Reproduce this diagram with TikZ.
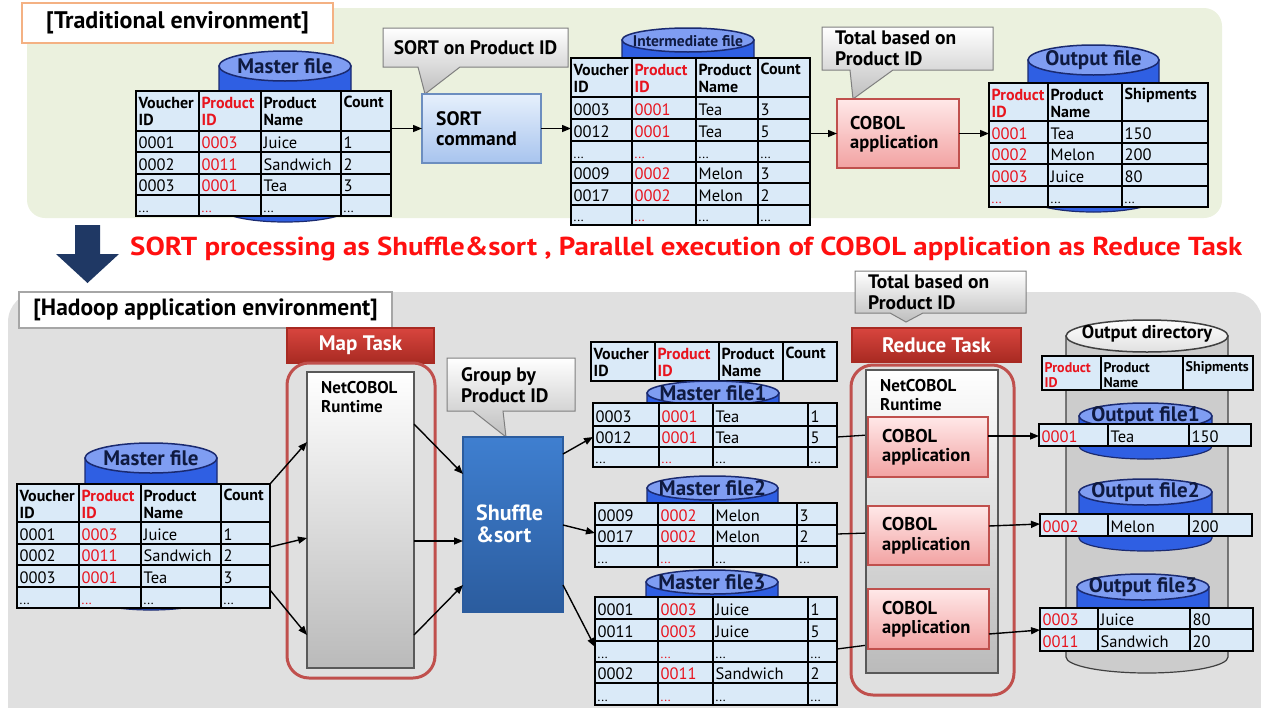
\documentclass[tikz,border=0pt]{standalone}
\usepackage{fontspec}
\setmainfont{PT Sans}
\usetikzlibrary{arrows.meta}
\definecolor{greenbg}{HTML}{EBF1DE}
\definecolor{graybg}{HTML}{E0E0E0}
\definecolor{cellblue}{HTML}{DAEAF8}
\definecolor{tred}{HTML}{E8141E}
\definecolor{hred}{HTML}{FF1010}
\definecolor{cylbodyc}{HTML}{2F5FE3}
\definecolor{cyltopc}{HTML}{7F9DF2}
\definecolor{cylline}{HTML}{1A2A70}
\definecolor{navy}{HTML}{1F3864}
\definecolor{taskredT}{HTML}{D8453E}
\definecolor{taskredB}{HTML}{A82A22}
\definecolor{outred}{HTML}{C0504D}
\definecolor{shufT}{HTML}{3F7FD0}
\definecolor{shufB}{HTML}{2B5C9E}
\definecolor{sortT}{HTML}{E6F0FC}
\definecolor{sortB}{HTML}{A8C4EE}
\definecolor{sortL}{HTML}{6C8EBF}
\definecolor{cobT}{HTML}{FFE8E8}
\definecolor{cobB}{HTML}{F2A2A2}
\definecolor{cobL}{HTML}{C0504D}
\definecolor{callB}{HTML}{BEBEBE}
\definecolor{callL}{HTML}{7F7F7F}
\definecolor{orangeb}{HTML}{F4B183}
\definecolor{grayb}{HTML}{A6A6A6}
\definecolor{dirbodyc}{HTML}{CCCCCC}
\definecolor{labc}{HTML}{0F1A40}

\newcommand\tdots{{\fontsize{13}{13}\selectfont...}}
\newcommand\rdots{\textcolor{tred}{\tdots}}
\newcommand\two[2]{\begin{tabular}{@{}l@{}}#1\\#2\end{tabular}}
\newcommand\mkcyl[9]{%
 \pgfmathsetmacro\cyX{(#2+#3)/2}%
 \pgfmathsetmacro\cyR{(#3-#2)/2}%
 \draw[#7] (#2,#4) -- (#2,#5) arc[start angle=180,end angle=0,x radius=\cyR,y radius=#6] -- (#3,#4) -- cycle;
 \draw[#8] (\cyX,#4) ellipse[x radius=\cyR,y radius=#6];
 \node[cyllabel] (#1) at (\cyX,#4) {#9};}
\newcommand\mkrow[4]{%
 \foreach \xa/\xb/\tx [count=\ci] in {#4}{%
  \draw[cell] (\xa,#2) rectangle (\xb,#3);
  \node[ctext] (#1-\ci) at ({\xa+2.5},{#3-4}) {\tx};}}
\newcommand\mkhrow[5]{%
 \foreach \xa/\xb/\tx [count=\ci] in {#5}{%
  \draw[cell] (\xa,#2) rectangle (\xb,#3);
  \node[#4] (#1-\ci) at ({\xa+2.5},{#2+5}) {\tx};}}
\newcommand\mkframe[5]{%
 \draw[frame] (#2,#3) rectangle (#4,#5);
 \coordinate (#1nw) at (#2,#3); \coordinate (#1se) at (#4,#5);
 \coordinate (#1ne) at (#4,#3); \coordinate (#1sw) at (#2,#5);}

\begin{document}
\begin{tikzpicture}[x=1pt,y=-1pt,
 cell/.style={fill=cellblue,draw=black,line width=1.2pt},
 frame/.style={draw=black,line width=2pt},
 ctext/.style={anchor=base west,inner sep=0pt,font=\fontsize{16.5}{18}\selectfont},
 htext/.style={anchor=north west,inner sep=0pt,font=\bfseries\fontsize{16}{17.5}\selectfont},
 htextsm/.style={anchor=north west,inner sep=0pt,font=\bfseries\fontsize{14}{15.5}\selectfont},
 cyllabel/.style={inner sep=0pt,text=labc,font=\bfseries\fontsize{21}{23}\selectfont},
 bcylbody/.style={fill=cylbodyc,draw=cylline,line width=1.2pt},
 bcyltop/.style={fill=cyltopc,draw=cylline,line width=1.5pt},
 dbody/.style={fill=dirbodyc,draw=black!75,line width=1.2pt},
 dtop/.style={top color=white,bottom color=black!12,draw=black!75,line width=1.5pt},
 arr/.style={-{Triangle[length=9pt,width=7pt]},line width=1.4pt},
 link/.style={line width=1.3pt},
 btxt/.style={font=\bfseries\fontsize{19.5}{20.5}\selectfont,align=left,inner sep=0pt,anchor=west},
 boxbase/.style={inner sep=0pt,outer sep=0pt,anchor=north west,line width=1.2pt},
 sortbox/.style={boxbase,draw=sortL,top color=sortT,bottom color=sortB},
 cobbox/.style={boxbase,draw=cobL,top color=cobT,bottom color=cobB},
 rtbox/.style={boxbase,draw=black!65,top color=white,middle color=black!8,bottom color=black!27},
 shufbox/.style={boxbase,draw=shufB,top color=shufT,bottom color=shufB},
 taskhdr/.style={boxbase,draw=taskredB,top color=taskredT,bottom color=taskredB,text=white,font=\bfseries\fontsize{21}{23}\selectfont},
 callout/.style={top color=white,bottom color=callB,draw=callL,line width=1pt},
 outline/.style={draw=outred,line width=3pt,rounded corners=22pt}]
\useasboundingbox (0,0) rectangle (1261,707);

% ---------------- backgrounds
\fill[greenbg,rounded corners=18pt] (27,8) rectangle (1222,218);
\fill[graybg,rounded corners=30pt] (8,292) rectangle (1262,740);

% ---------------- TOP: traditional environment
\node[boxbase,draw=orangeb,fill=white,minimum width=311pt,minimum height=40pt,font=\bfseries\fontsize{24}{26}\selectfont] (trad) at (22,3) {[Traditional environment]};

% master file (top)
\mkcyl{cylTM}{219}{351}{66}{207}{15}{bcylbody}{bcyltop}{Master file}
\mkhrow{tmh}{91}{131}{htext}{136/199/{\two{Voucher}{ID}},199/261/{\two{\color{tred}Product}{\color{tred}ID}},261/341/{\two{Product}{Name}},341/391/Count}
\mkrow{tma}{131}{152}{136/199/0001,199/261/{\textcolor{tred}{0003}},261/341/Juice,341/391/1}
\mkrow{tmb}{152}{174}{136/199/0002,199/261/{\textcolor{tred}{0011}},261/341/Sandwich,341/391/2}
\mkrow{tmc}{174}{195}{136/199/0003,199/261/{\textcolor{tred}{0001}},261/341/Tea,341/391/3}
\mkrow{tmd}{195}{216}{136/199/\tdots,199/261/\rdots,261/341/\tdots,341/391/\tdots}
\mkframe{tabTM}{136}{91}{391}{216}

% SORT callout + command
\shadedraw[callout] (383,28) -- (568,28) -- (568,67) -- (460,67) -- (425,94) -- (418,67) -- (383,67) -- cycle;
\node[btxt,anchor=center] (callSort) at (475.5,47.5) {SORT on Product ID};
\node[sortbox,minimum width=119pt,minimum height=69pt] (sortcmd) at (422,94) {};
\node[btxt] (sortcmdT) at (436,128.5) {SORT\\command};

% intermediate file
\mkcyl{cylIN}{622}{754}{40}{58}{12}{bcylbody}{bcyltop}{}
\node[inner sep=0pt,text=labc,font=\bfseries\fontsize{15.5}{17}\selectfont] (cylINl) at (688,41) {Intermediate file};
\mkhrow{inh}{58}{97}{htext}{571/632/{\two{Voucher}{ID}},632/696/{\two{\color{tred}Product}{\color{tred}ID}},696/758/{\two{Product}{Name}},758/810/Count}
\mkrow{ina}{97}{119}{571/632/0003,632/696/{\textcolor{tred}{0001}},696/758/Tea,758/810/3}
\mkrow{inb}{119}{141}{571/632/0012,632/696/{\textcolor{tred}{0001}},696/758/Tea,758/810/5}
\mkrow{inc}{141}{162}{571/632/\tdots,632/696/\rdots,696/758/\tdots,758/810/\tdots}
\mkrow{ind}{162}{183}{571/632/0009,632/696/{\textcolor{tred}{0002}},696/758/Melon,758/810/3}
\mkrow{ine}{183}{205}{571/632/0017,632/696/{\textcolor{tred}{0002}},696/758/Melon,758/810/2}
\mkrow{inf}{205}{225}{571/632/\tdots,632/696/\rdots,696/758/\tdots,758/810/\tdots}
\mkframe{tabIN}{571}{58}{810}{225}

% Total callout + COBOL application (top)
\shadedraw[callout] (822,27) -- (993,27) -- (993,70) -- (893,70) -- (853,99) -- (850,70) -- (822,70) -- cycle;
\node[btxt] (callTot) at (835,48.5) {Total based on\\Product ID};
\node[cobbox,minimum width=122pt,minimum height=69pt] (cobT) at (837,99) {};
\node[btxt,font=\bfseries\fontsize{18.5}{19}\selectfont] (cobTt) at (850,134) {COBOL\\application};

% output file (top)
\mkcyl{cylTO}{1028}{1159}{60}{197}{15}{bcylbody}{bcyltop}{Output file}
\mkhrow{toh}{83}{121}{htext}{989/1048/{\two{\color{tred}Product}{\color{tred}ID}},1048/1122/{\two{Product}{Name}},1122/1208/Shipments}
\mkrow{toa}{121}{143}{989/1048/{\textcolor{tred}{0001}},1048/1122/Tea,1122/1208/150}
\mkrow{tob}{143}{164}{989/1048/{\textcolor{tred}{0002}},1048/1122/Melon,1122/1208/200}
\mkrow{toc}{164}{186}{989/1048/{\textcolor{tred}{0003}},1048/1122/Juice,1122/1208/80}
\mkrow{tod}{186}{207}{989/1048/\rdots,1048/1122/\tdots,1122/1208/\tdots}
\mkframe{tabTO}{989}{83}{1208}{207}

% top connectors
\draw[arr] (tabTMse |- sortcmd.west) -- (sortcmd.west);
\draw[arr] (sortcmd.east) -- (tabINsw |- sortcmd.east);
\draw[arr] (tabINse |- cobT.west) -- (cobT.west);
\draw[arr] (cobT.east) -- (tabTOsw |- cobT.east);

% ---------------- middle
\fill[navy] (75,225) -- (100,225) -- (100,254) -- (119,254) -- (87.5,283) -- (56,254) -- (75,254) -- cycle;
\node[anchor=west,inner sep=0pt,text=hred] (headline) at (130,249) {\resizebox{1112pt}{\height}{\bfseries\fontsize{26}{28}\selectfont SORT processing as Shuffle\&sort , Parallel execution of COBOL application as Reduce Task}};

% ---------------- BOTTOM: Hadoop
\node[boxbase,draw=grayb,fill=white,minimum width=373pt,minimum height=36pt,font=\bfseries\fontsize{23.5}{25}\selectfont] (hadoop) at (19,292) {[Hadoop application environment]};

% Map task
\node[taskhdr,minimum width=147pt,minimum height=35pt] (mapH) at (287,328) {Map Task};
\draw[outline] (287,363) rectangle (435,678);
\node[rtbox,minimum width=107pt,minimum height=296pt] (mapRT) at (307,372) {};
\node[btxt,font=\bfseries\fontsize{17}{19}\selectfont] (mapRTt) at (321,397) {NetCOBOL\\Runtime};

% master file (bottom)
\mkcyl{cylBM}{85}{217}{458}{595}{15}{bcylbody}{bcyltop}{Master file}
\mkhrow{bmh}{484}{522}{htext}{17/79/{\two{Voucher}{ID}},79/141/{\two{\color{tred}Product}{\color{tred}ID}},141/221/{\two{Product}{Name}},221/270/Count}
\mkrow{bma}{522}{544}{17/79/0001,79/141/{\textcolor{tred}{0003}},141/221/Juice,221/270/1}
\mkrow{bmb}{544}{565}{17/79/0002,79/141/{\textcolor{tred}{0011}},141/221/Sandwich,221/270/2}
\mkrow{bmc}{565}{587}{17/79/0003,79/141/{\textcolor{tred}{0001}},141/221/Tea,221/270/3}
\mkrow{bmd}{587}{608}{17/79/\tdots,79/141/\rdots,141/221/\tdots,221/270/\tdots}
\mkframe{tabBM}{17}{484}{270}{608}

% Shuffle & sort
\shadedraw[callout] (447,358) -- (575,358) -- (575,411) -- (503,411) -- (506,437) -- (473,411) -- (447,411) -- cycle;
\node[btxt] (callGrp) at (461,385) {Group by\\Product ID};
\node[shufbox,minimum width=100pt,minimum height=175pt] (shuf) at (463,437) {};
\node[btxt,text=white,font=\bfseries\fontsize{22}{22}\selectfont] (shuft) at (476,524) {Shuffle\\\&sort};

% grouped master files
\mkhrow{gh}{342}{381}{htext}{591/655/{\two{Voucher}{ID}},655/719/{\two{\color{tred}Product}{\color{tred}ID}},719/783/{\two{Product}{Name}},783/837/Count}
\mkframe{tabGH}{591}{342}{837}{381}

\mkcyl{cylM1}{647}{779}{393}{455}{12}{bcylbody}{bcyltop}{Master file1}
\mkrow{m1a}{403}{426}{593/659/0003,659/713/{\textcolor{tred}{0001}},713/808/Tea,808/837/1}
\mkrow{m1b}{426}{447}{593/659/0012,659/713/{\textcolor{tred}{0001}},713/808/Tea,808/837/5}
\mkrow{m1c}{447}{467}{593/659/\tdots,659/713/\rdots,713/808/\tdots,808/837/\tdots}
\mkframe{tabM1}{593}{403}{837}{467}

\mkcyl{cylM2}{647}{778}{488}{555}{12}{bcylbody}{bcyltop}{Master file2}
\mkrow{m2a}{503}{525}{595/658/0009,658/713/{\textcolor{tred}{0002}},713/797/Melon,797/837/3}
\mkrow{m2b}{525}{546}{595/658/0017,658/713/{\textcolor{tred}{0002}},713/797/Melon,797/837/2}
\mkrow{m2c}{546}{567}{595/658/\tdots,658/713/\rdots,713/797/\tdots,797/837/\tdots}
\mkframe{tabM2}{595}{503}{837}{567}

\mkcyl{cylM3}{646}{778}{582}{690}{12}{bcylbody}{bcyltop}{Master file3}
\mkrow{m3a}{597}{619}{595/658/0001,658/713/{\textcolor{tred}{0003}},713/808/Juice,808/837/1}
\mkrow{m3b}{619}{641}{595/658/0011,658/713/{\textcolor{tred}{0003}},713/808/Juice,808/837/5}
\mkrow{m3c}{641}{662}{595/658/\tdots,658/713/\rdots,713/808/\tdots,808/837/\tdots}
\mkrow{m3d}{662}{683}{595/658/0002,658/713/{\textcolor{tred}{0011}},713/808/Sandwich,808/837/2}
\mkrow{m3e}{683}{705}{595/658/\tdots,658/713/\rdots,713/808/\tdots,808/837/\tdots}
\mkframe{tabM3}{595}{597}{837}{705}

% Reduce task
\shadedraw[callout] (855,271) -- (1026,271) -- (1026,313) -- (923,313) -- (906,322) -- (890,313) -- (855,313) -- cycle;
\node[btxt] (callTot2) at (868,292.5) {Total based on\\Product ID};
\node[taskhdr,minimum width=169pt,minimum height=34pt] (redH) at (852,328) {Reduce Task};
\draw[outline] (851,365) rectangle (1014,695);

% connectors master files -> COBOL apps (behind runtime)
\coordinate (mo1) at (837,437); \coordinate (ci1) at (868,435);
\coordinate (mo2) at (837,534); \coordinate (ci2) at (868,533);
\coordinate (mo3) at (837,649); \coordinate (ci3) at (868,645);
\draw[link] (mo1) -- (ci1);
\draw[link] (mo2) -- (ci2);
\draw[link] (mo3) -- (ci3);

\node[rtbox,minimum width=132pt,minimum height=303pt] (redRT) at (866,370) {};
\node[btxt,font=\bfseries\fontsize{17}{18.5}\selectfont] (redRTt) at (880,395) {NetCOBOL\\Runtime};
\node[cobbox,minimum width=120pt,minimum height=60pt] (cob1) at (868,417) {};
\node[btxt,font=\bfseries\fontsize{18.5}{19.5}\selectfont] (cob1t) at (882,447) {COBOL\\application};
\node[cobbox,minimum width=121pt,minimum height=59pt] (cob2) at (868,506) {};
\node[btxt,font=\bfseries\fontsize{18.5}{19.5}\selectfont] (cob2t) at (882,535.5) {COBOL\\application};
\node[cobbox,minimum width=121pt,minimum height=60pt] (cob3) at (868,589) {};
\node[btxt,font=\bfseries\fontsize{18.5}{19.5}\selectfont] (cob3t) at (882,619) {COBOL\\application};

% output directory
\mkcyl{cylDIR}{1066}{1228}{336}{657}{16}{dbody}{dtop}{}
\node[inner sep=0pt,font=\bfseries\fontsize{18.5}{20}\selectfont] (cylDIRl) at (1147,334) {Output directory};
\mkhrow{odh}{356}{390}{htextsm}{1042/1101/{\two{\color{tred}Product}{\color{tred}ID}},1101/1183/{\two{Product}{Name}},1183/1253/Shipments}
\mkframe{tabODH}{1042}{356}{1253}{390}

\mkcyl{cylO1}{1079}{1212}{416}{446}{13}{bcylbody}{bcyltop}{Output file1}
\mkrow{o1a}{424}{446}{1039/1108/{\textcolor{tred}{0001}},1108/1189/Tea,1189/1251/150}
\mkframe{tabO1}{1039}{424}{1251}{446}

\mkcyl{cylO2}{1079}{1212}{492}{538}{13}{bcylbody}{bcyltop}{Output file2}
\mkrow{o2a}{514}{536}{1040/1108/{\textcolor{tred}{0002}},1108/1189/Melon,1189/1252/200}
\mkframe{tabO2}{1040}{514}{1252}{536}

\mkcyl{cylO3}{1077}{1209}{587}{630}{13}{bcylbody}{bcyltop}{Output file3}
\mkrow{o3a}{608}{629}{1040/1098/{\textcolor{tred}{0003}},1098/1190/Juice,1190/1253/80}
\mkrow{o3b}{629}{651}{1040/1098/{\textcolor{tred}{0011}},1098/1190/Sandwich,1190/1253/20}
\mkframe{tabO3}{1040}{608}{1253}{651}

% bottom connectors
\coordinate (bm1) at (270,484); \coordinate (rm1) at (307,442);
\coordinate (bm2) at (270,547); \coordinate (rm2) at (307,538);
\coordinate (bm3) at (270,590); \coordinate (rm3) at (307,635);
\draw[arr] (bm1) -- (rm1);
\draw[arr] (bm2) -- (rm2);
\draw[arr] (bm3) -- (rm3);
\coordinate (ro1) at (414,424); \coordinate (si1) at (463,474);
\coordinate (ro2) at (414,541); \coordinate (si2) at (463,541);
\coordinate (ro3) at (414,635); \coordinate (si3) at (463,585);
\draw[arr] (ro1) -- (si1);
\draw[arr] (ro2) -- (si2);
\draw[arr] (ro3) -- (si3);
\coordinate (so1) at (563,454); \coordinate (mf1) at (593,437);
\coordinate (so2) at (563,525); \coordinate (mf2) at (595,533);
\coordinate (so3) at (563,585); \coordinate (mf3) at (595,647);
\draw[arr] (so1) -- (mf1);
\draw[arr] (so2) -- (mf2);
\draw[arr] (so3) -- (mf3);
\coordinate (co1) at (988,436); \coordinate (of1) at (1039,436);
\coordinate (co2) at (989,526); \coordinate (of2) at (1040,524);
\coordinate (co3) at (989,634); \coordinate (of3) at (1040,630);
\draw[arr] (co1) -- (of1);
\draw[arr] (co2) -- (of2);
\draw[arr] (co3) -- (of3);
\end{tikzpicture}
\end{document}
